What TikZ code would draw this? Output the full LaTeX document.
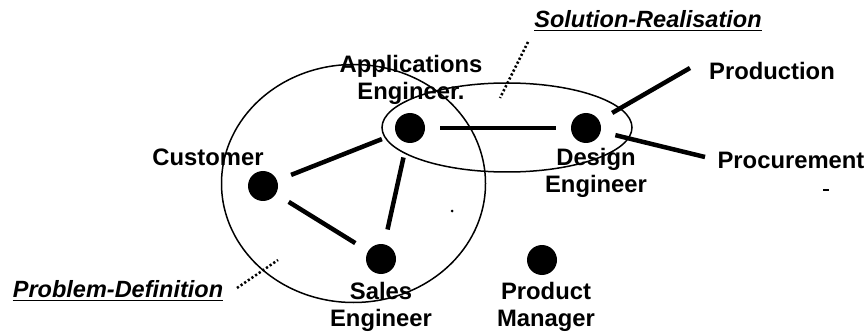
\documentclass[tikz,border=0pt]{standalone}
\usepackage{fontspec}
\setmainfont{Liberation Sans}
\begin{document}
\begin{tikzpicture}[x=1pt,y=-1pt,
  lbl/.style={font=\bfseries\fontsize{23.8}{27.5}\selectfont, align=center, inner sep=0pt},
  ttl/.style={font=\bfseries\itshape\fontsize{23.5}{27}\selectfont, inner sep=0pt},
  dot/.style={circle, fill=black, minimum size=30pt, inner sep=0pt},
  link/.style={line width=4.5pt, shorten <=15pt, shorten >=15pt},
  ring/.style={line width=1.5pt},
  leader/.style={line width=2.5pt, dash pattern=on 2.2pt off 2.2pt},
  uline/.style={line width=1.6pt}]
\useasboundingbox (0,0) rectangle (868,334);
% group outlines
\draw[ring] (353.5,183.5) ellipse [x radius=132pt, y radius=119pt];
\draw[ring] (507,127.5) ellipse [x radius=125pt, y radius=44.5pt];
% actors
\node[dot] (app) at (410,128) {};
\node[dot] (des) at (586,128) {};
\node[dot] (cus) at (263,186) {};
\node[dot] (sal) at (381,259) {};
\node[dot] (pm) at (542,260) {};
\coordinate (prod) at (690,68);
\coordinate (proc) at (705,157);
% links
\draw[link] (app) -- (des);
\draw[link] (cus) -- (app);
\draw[link] (cus) -- (sal);
\draw[link] (app) -- (sal);
\draw[link, shorten >=0pt] (des) -- (prod);
\draw[link, shorten >=0pt] (des) -- (proc);
% labels
\node[lbl] (lapp) at (411,80) {Applications\\Engineer.};
\node[lbl] (lcus) at (208,157) {Customer};
\node[lbl] (ldes) at (596,173) {Design\\Engineer};
\node[lbl] (lprod) at (772,71) {Production};
\node[lbl] (lproc) at (791,160) {Procurement};
\node[lbl] (lsal) at (381,307) {Sales\\Engineer};
\node[lbl] (lpm) at (546,307) {Product\\Manager};
% titles
\node[ttl] (sol) at (648,19) {Solution-Realisation};
\draw[uline] ([yshift=-3pt]sol.base west) -- ([yshift=-3pt]sol.base east);
\node[ttl] (pro) at (118,289) {Problem-Definition};
\draw[uline] ([yshift=-3pt]pro.base west) -- ([yshift=-3pt]pro.base east);
\coordinate (solend) at (500,98);
\coordinate (proend) at (278,260);
\draw[leader] (528,42) -- (solend);
\draw[leader] (237,288) -- (proend);
% stray marks
\fill (452,211) circle [radius=1.5pt];
\fill (823,189) rectangle (829,191.5);
\end{tikzpicture}
\end{document}
